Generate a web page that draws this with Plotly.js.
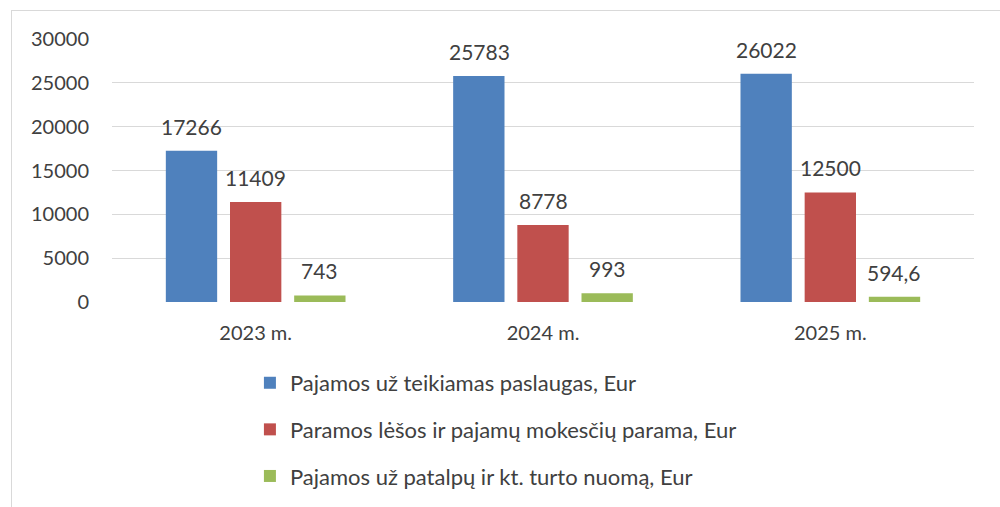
<!DOCTYPE html>
<html><head><meta charset="utf-8">
<script src="https://cdn.plot.ly/plotly-3.0.1.min.js"></script>
<style>
html,body{margin:0;padding:0;background:#fff;}
#wrap{position:relative;width:1000px;height:507px;overflow:hidden;}
#chart{width:1000px;height:507px;}
#frame{position:absolute;left:11px;top:10px;width:1100px;height:600px;border:1px solid #d9d9d9;pointer-events:none;}
</style></head>
<body><div id="wrap"><div id="chart"></div><div id="frame"></div></div>
<script>
const categories = ["2023 m.", "2024 m.", "2025 m."];
const seriesNames = [
  "Pajamos už teikiamas paslaugas, Eur",
  "Paramos lėšos ir pajamų mokesčių parama, Eur",
  "Pajamos už patalpų ir kt. turto nuomą, Eur"
];
const services = [17266, 25783, 26022];
const support = [11409, 8778, 12500];
const rent = [743, 993, 594.6];
const colors = ["#4F81BD", "#C0504D", "#9BBB59"];
const yTicks = [0, 5000, 10000, 15000, 20000, 25000, 30000];

const FONT = "Lato, 'Open Sans', sans-serif";
const TXT = "#404040";
const allSeries = [services, support, rent];
const fmt = v => String(v).replace('.', ',');

const traces = allSeries.map((vals, i) => ({
  type: 'bar', x: categories, y: vals, name: seriesNames[i],
  marker: {color: colors[i]}, legendgroup: 'g' + i, hoverinfo: 'none'
}));

const annotations = [];
allSeries.forEach((vals, i) => {
  vals.forEach((v, j) => {
    annotations.push({
      x: categories[j], y: v, xref: 'x', yref: 'y', text: fmt(v),
      showarrow: false, yanchor: 'bottom', xshift: (i - 1) * 64, yshift: 10,
      font: {family: FONT, size: 21, color: TXT}
    });
  });
});

const layout = {
  width: 1000, height: 507,
  margin: {l: 112, r: 26, t: 39, b: 205, autoexpand: false},
  paper_bgcolor: '#fff', plot_bgcolor: '#fff',
  barmode: 'group', bargap: 0.33, bargroupgap: 0.2,
  font: {family: FONT, color: TXT, size: 20},
  xaxis: {
    type: 'category', showgrid: false, zeroline: false, showline: false,
    ticks: '', ticklabelstandoff: 17, tickfont: {family: FONT, size: 20, color: TXT}
  },
  yaxis: {
    range: [0, 30000], tickvals: yTicks, ticktext: yTicks.map(String),
    showgrid: true, gridcolor: '#D9D9D9', gridwidth: 1.3, zeroline: false, showline: false,
    ticks: '', ticklabelstandoff: 22, tickfont: {family: FONT, size: 20, color: TXT}
  },
  showlegend: true,
  legend: {
    orientation: 'v', x: 0.160, xanchor: 'left', y: -0.228, yanchor: 'top',
    font: {family: FONT, size: 22, color: TXT}, tracegroupgap: 15, itemwidth: 30,
    traceorder: 'grouped', bgcolor: 'rgba(0,0,0,0)'
  },
  annotations: annotations
};

Plotly.newPlot('chart', traces, layout, {displayModeBar: false, staticPlot: true});
</script></body></html>
